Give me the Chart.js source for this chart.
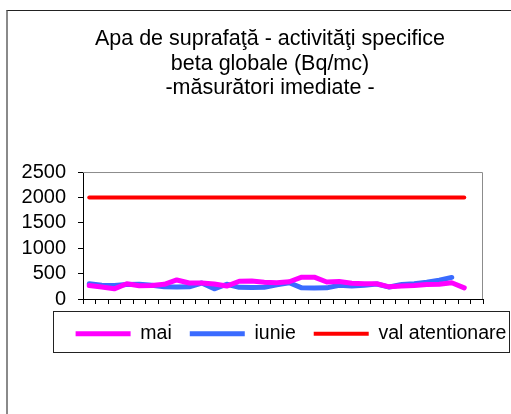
<!DOCTYPE html>
<html>
<head>
<meta charset="utf-8">
<script src="https://cdn.jsdelivr.net/npm/chart.js@4"></script>
<style>
  html, body { margin: 0; padding: 0; background: #fff; overflow: hidden; }
  body { width: 511px; height: 414px; position: relative; }
  #cadru { position: absolute; left: 6px; top: 10px; width: 700px; height: 700px;
           border-top: 1px solid #222; border-left: 2px solid #8a8a8a; }
  #zona { position: absolute; left: 0; top: 0; width: 540px; height: 414px; }
</style>
</head>
<body>
<div id="cadru"></div>
<div id="zona"><canvas id="grafic"></canvas></div>
<script>
// zilele lunii (ultima categorie ramane goala, ca in original)
const zile = ['1','2','3','4','5','6','7','8','9','10','11','12','13','14','15','16',
              '17','18','19','20','21','22','23','24','25','26','27','28','29','30','31',''];

// activitati beta globale (Bq/mc)
const mai = [265, 235, 200, 300, 260, 265, 290, 375, 315, 315, 295, 255, 350, 355, 330, 320,
             340, 430, 430, 335, 345, 310, 300, 300, 240, 255, 265, 285, 290, 320, 220];
const iunie = [300, 270, 265, 285, 290, 270, 240, 235, 240, 315, 200, 290, 230, 225, 230, 280,
               320, 220, 215, 220, 270, 255, 270, 295, 235, 285, 300, 330, 370, 425];
const valAtentionare = [2000, 2000, 2000, 2000, 2000, 2000, 2000, 2000, 2000, 2000, 2000,
                        2000, 2000, 2000, 2000, 2000, 2000, 2000, 2000, 2000, 2000, 2000,
                        2000, 2000, 2000, 2000, 2000, 2000, 2000, 2000, 2000];

const titlu = ['Apa de suprafaţă - activităţi specifice', 'beta globale (Bq/mc)', '-măsurători imediate -'];

// chenar gri sus/dreapta pentru zona graficului + chenarul legendei
const chenar = {
    id: 'chenar',
    afterLayout(chart) {
        // legenda e putin mai la dreapta si mai jos in original
        chart.legend.left += 21;
        chart.legend.right += 21;
        chart.legend.top += 2;
        chart.legend.bottom += 2;
    },
    afterDraw(chart) {
        const ctx = chart.ctx;
        const a = chart.chartArea;
        ctx.save();
        ctx.strokeStyle = '#8c8c8c';
        ctx.lineWidth = 1;
        ctx.beginPath();
        ctx.moveTo(a.left, a.top + 0.5);
        ctx.lineTo(a.right - 0.5, a.top + 0.5);
        ctx.lineTo(a.right - 0.5, a.bottom);
        ctx.stroke();

        ctx.strokeStyle = '#222';
        ctx.strokeRect(53.5, 311.5, 456, 41);
        ctx.restore();
    }
};

Chart.defaults.font.family = '"Liberation Sans", Arial, sans-serif';
Chart.defaults.color = '#000';

new Chart(document.getElementById('grafic'), {
    type: 'line',
    data: {
        labels: zile,
        datasets: [
            { label: 'mai', data: mai, borderColor: '#ff00ff', backgroundColor: '#ff00ff', borderWidth: 5 },
            { label: 'iunie', data: iunie, borderColor: '#3a6bff', backgroundColor: '#3a6bff', borderWidth: 5 },
            { label: 'val atentionare', data: valAtentionare, borderColor: '#ff0000', backgroundColor: '#ff0000', borderWidth: 4 }
        ]
    },
    options: {
        responsive: true,
        maintainAspectRatio: false,
        animation: false,
        elements: {
            point: { radius: 0 },
            line: { tension: 0, borderCapStyle: 'round', borderJoinStyle: 'round' }
        },
        layout: { padding: { left: 15, right: 15, top: 0, bottom: 62.5 } },
        plugins: {
            title: {
                display: true,
                text: titlu,
                font: { size: 21.5, weight: 'normal', lineHeight: 1.14 },
                padding: { top: 27, bottom: 71.5 }
            },
            legend: {
                position: 'bottom',
                labels: {
                    usePointStyle: true,
                    pointStyle: 'line',
                    pointStyleWidth: 55,
                    padding: 18,
                    font: { size: 19.5 }
                }
            },
            tooltip: { enabled: false }
        },
        scales: {
            x: {
                offset: true,
                grid: { offset: true, drawOnChartArea: false, tickLength: 5, color: '#000' },
                border: { color: '#000' },
                ticks: { display: false }
            },
            y: {
                min: 0,
                max: 2500,
                afterFit(s) { s.width = 68; },
                grid: { drawOnChartArea: false, tickLength: 5, color: '#000' },
                border: { color: '#000' },
                ticks: { stepSize: 500, padding: 12, autoSkip: false, font: { size: 20 },
                         callback: v => String(v) }
            },
            dreapta: {
                position: 'right',
                afterFit(s) { s.width = 42; },
                grid: { display: false },
                border: { display: false },
                ticks: { display: false }
            }
        }
    },
    plugins: [chenar]
});
</script>
</body>
</html>
